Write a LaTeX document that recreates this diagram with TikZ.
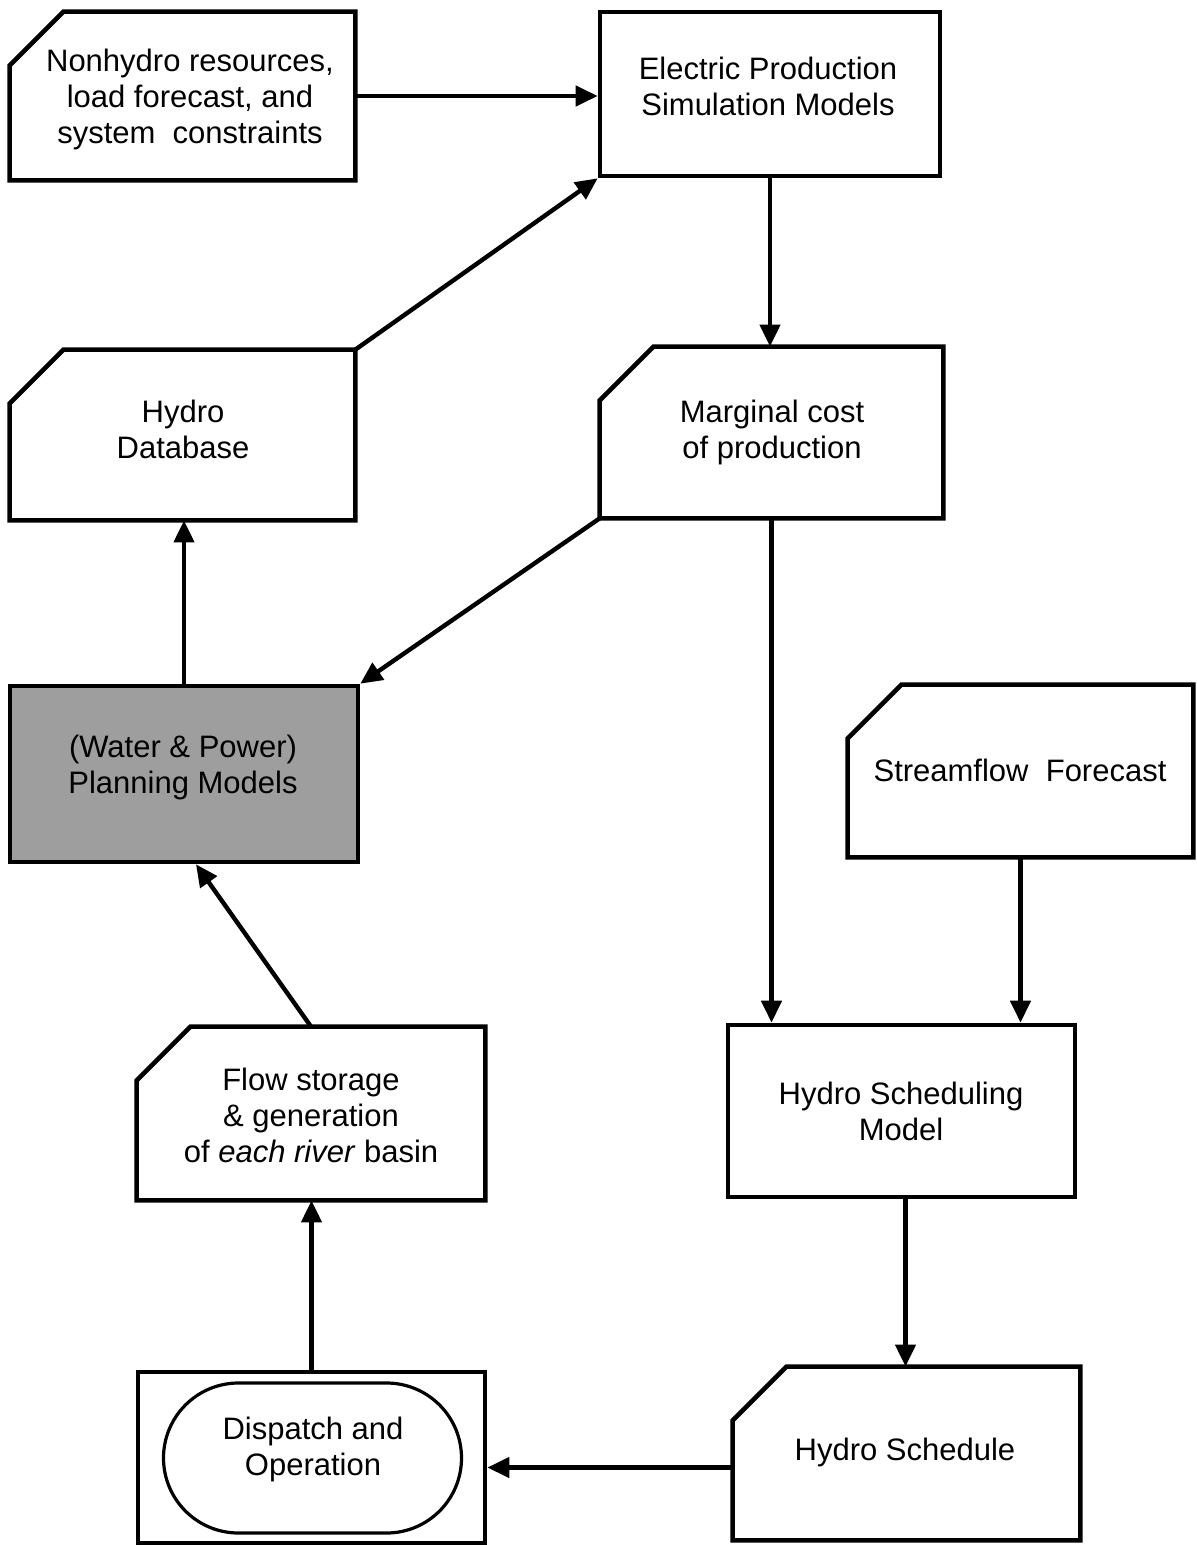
\documentclass[tikz,border=0pt]{standalone}
\usepackage{fontspec}
\setmainfont{Liberation Sans}
\usetikzlibrary{arrows.meta,shapes.misc,calc}
\newcommand\fs{\fontsize{15.5}{18}\selectfont}
\newcommand\cardline[1]{\draw[boxline] (#1.south west) -- ([yshift=-27pt]#1.north west) -- ([xshift=27pt]#1.north west) -- (#1.north east) -- (#1.south east) -- cycle;}
\begin{document}
\begin{tikzpicture}[x=0.5pt,y=-0.5pt,
  boxline/.style={line width=2.3pt},
  plainbox/.style={draw, line width=2.3pt, rectangle, inner sep=0pt},
  cardbox/.style={draw=none, rectangle, inner sep=0pt},
  txt/.style={inner sep=0pt, align=center, font=\fs},
  arr/.style={line width=2.2pt, -{Triangle[length=11pt,width=10pt]}},
]
\useasboundingbox (0,0) rectangle (1196,1545);
\fill[white] (0,0) rectangle (1196,1545);

% boxes
\node[cardbox, minimum width=172.5pt, minimum height=84pt] (nonhydro) at (182.5,96) {};
\node[plainbox, minimum width=170pt, minimum height=82pt] (electric) at (770,94) {};
\node[cardbox, minimum width=172.5pt, minimum height=85pt] (hydrodb) at (182.5,435) {};
\node[cardbox, minimum width=171.5pt, minimum height=85.5pt] (marginal) at (771.5,432.5) {};
\node[plainbox, fill=black!38, minimum width=174pt, minimum height=88pt] (planning) at (184,774) {};
\node[cardbox, minimum width=172.5pt, minimum height=86pt] (stream) at (1020.5,771) {};
\node[cardbox, minimum width=174pt, minimum height=86.5pt] (flow) at (311,1113.5) {};
\node[plainbox, minimum width=173.5pt, minimum height=86pt] (hsm) at (901.5,1111) {};
\node[cardbox, minimum width=173.5pt, minimum height=86.5pt] (hsched) at (906.5,1453.5) {};
\node[plainbox, minimum width=173.5pt, minimum height=85.5pt] (dispatch) at (311.5,1457.5) {};
\node[draw, line width=1.6pt, rounded rectangle, inner sep=0pt,
  minimum width=149pt, minimum height=75pt] (dop) at (312.5,1458) {};

% card outlines
\cardline{nonhydro}
\cardline{hydrodb}
\cardline{marginal}
\cardline{stream}
\cardline{flow}
\cardline{hsched}

% texts
\node[txt] (nonhydro-t) at (190,99) {Nonhydro resources,\\load forecast, and\\system\ \ constraints};
\node[txt] (electric-t) at (768,86) {Electric Production\\Simulation Models};
\node[txt] (hydrodb-t) at (183,429) {Hydro\\Database};
\node[txt] (marginal-t) at (772,432) {Marginal cost\\of production};
\node[txt] (planning-t) at (183,767) {(Water \& Power)\\Planning Models};
\node[txt] (stream-t) at (1020,770) {Streamflow\ \ Forecast};
\node[txt] (flow-t) at (311,1115) {Flow storage\\\& generation\\of \textit{each river} basin};
\node[txt] (hsm-t) at (901,1111) {Hydro Scheduling\\Model};
\node[txt] (hsched-t) at (905,1452) {Hydro Schedule};
\node[txt] (dop-t) at (313,1449) {Dispatch and\\Operation};

% connectors
\draw[arr] (nonhydro.east) -- (nonhydro.east -| electric.west);
\draw[arr] (hydrodb.north east) -- (electric.south west);
\draw[arr] (electric.south) -- (electric.south |- marginal.north);
\draw[arr] (marginal.south west) -- (planning.north east);
\draw[arr] (planning.north) -- (planning.north |- hydrodb.south);
\draw[arr] (flow.north) -- ([xshift=6pt]planning.south);
\draw[arr] (marginal.south) -- (marginal.south |- hsm.north);
\draw[arr] (stream.south) -- (stream.south |- hsm.north);
\draw[arr] ([xshift=2pt]hsm.south) -- ([xshift=2pt]hsm.south |- hsched.north);
\draw[arr] ([yshift=-7pt]hsched.west) -- ([yshift=-7pt]hsched.west -| dispatch.east);
\draw[arr] (dispatch.north) -- (dispatch.north |- flow.south);
\end{tikzpicture}
\end{document}
